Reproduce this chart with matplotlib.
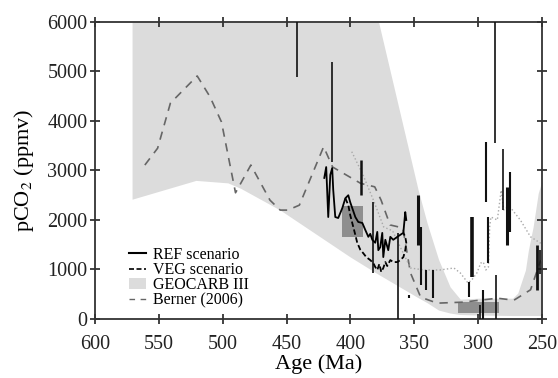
import numpy as np
import matplotlib
matplotlib.use("Agg")
import matplotlib.pyplot as plt
from matplotlib.lines import Line2D
from matplotlib.patches import Patch, Rectangle

plt.rcParams['font.family'] = 'serif'
plt.rcParams['font.serif'] = ['Liberation Serif', 'DejaVu Serif']
plt.rcParams['mathtext.fontset'] = 'stix'

# GEOCARB III envelope (age in Ma, ppmv)
geo_age = [571, 521, 496, 486, 455, 400, 378, 347, 340, 331, 322, 314, 300, 273, 269, 263, 260.7,
           257, 253, 250]
geo_low = [2420, 2800, 2750, 2640, 2200, 1250, 900, 430, 330, 180, 120, 90, 80, 70, 70, 70, 70,
           70, 70, 70]
geo_high = [6000, 6000, 6000, 6000, 6000, 6000, 6000, 2606, 1940, 1200, 650, 400, 420, 420, 525,
            990, 1390, 1860, 2540, 2800]

# Berner (2006)
berner_age = [561, 551, 541, 520, 510, 501, 490, 478, 463, 455, 449, 440, 421, 414, 392, 381, 376,
              369, 359, 353, 345, 332, 312, 285, 272, 259, 251]
berner_co2 = [3110, 3450, 4360, 4910, 4490, 3980, 2550, 3110, 2400, 2200, 2200, 2300, 3480, 3070,
              2740, 2670, 2400, 1900, 1840, 930, 440, 320, 340, 420, 380, 590, 1190]

# dotted curve
dot_age = [399, 390, 382, 374, 367, 360, 353, 345, 338, 330, 319, 314, 308, 305, 301, 298, 296, 294,
           292, 291, 290, 285, 282, 280, 277, 275, 267, 259, 251]
dot_co2 = [3380, 2900, 2400, 1860, 1780, 1400, 1030, 1000, 990, 990, 1030, 930, 730, 790, 930, 1130,
           1150, 990, 1050, 1860, 2060, 2000, 2600, 2200, 2260, 2260, 2000, 1660, 1530]

# REF scenario
ref_age = [420.5, 419, 417.4, 415.8, 414.3, 413.5, 411.9, 409.6, 406.4, 404, 401.7, 400.2, 398.6,
           396.2, 393.9, 390.7, 388.4, 386, 384.5, 382.9, 380.6, 379, 378.2, 376.7, 375.1, 374.3,
           372.7, 370.4, 368.8, 366.5, 363.3, 361, 358.6, 357.1, 356.3]
ref_co2 = [2850, 3070, 2060, 2910, 3050, 2610, 2060, 2040, 2240, 2440, 2500, 2360, 2240, 2060, 1960,
           1940, 1800, 1660, 1720, 1600, 1540, 1760, 1390, 1450, 1740, 1250, 1600, 1390, 1660, 1600,
           1660, 1700, 1740, 2160, 2000]

# VEG scenario
veg_age = [404, 401.7, 400.2, 397.8, 396.2, 394.7, 392.3, 390, 387.6, 384.5, 382.1, 380.6, 379,
           377.4, 375.9, 374.3, 372.7, 371.2, 368.8, 366.5, 363.3, 361, 358.6, 357.1, 356.3, 357.1, 358.6]
veg_co2 = [2440, 2300, 2100, 1860, 1700, 1540, 1400, 1330, 1250, 1190, 1130, 1050, 990, 1110, 950,
           1030, 1150, 1070, 1190, 1150, 1150, 1190, 1250, 1390, 1540, 1660, 1740]

# proxy ranges: age, low, high, width
bar_age = [441.5, 414.3, 391.5, 382.1, 362.5, 353.9, 346.9, 344.5, 340.6, 335.1, 306.9, 304.5,
           298.3, 295.9, 293.6, 292, 286.5, 285.7, 280.3, 277.1, 274.8, 253.6, 251.3]
bar_low = [4880, 3170, 2500, 930, 0, 420, 1490, 690, 590, 420, 440, 850,
           0, 0, 2360, 1130, 3550, 0, 2200, 1500, 1760, 590, 900]
bar_high = [6000, 5190, 3210, 2360, 1740, 480, 2500, 1860, 990, 990, 750, 2060,
            280, 590, 3580, 2060, 6000, 890, 3430, 2670, 2970, 1500, 1400]
bar_lw = [1.2, 1.2, 1.8, 1.2, 1.2, 1.5, 2.2, 1.5, 1.5, 1.5, 1.5, 2.6,
          1.2, 1.5, 1.5, 1.5, 1.2, 1.2, 1.2, 2.2, 1.5, 2.0, 1.2]

# paleosol boxes: age range, co2 range
box_age = [(390, 407), (284, 316)]
box_co2 = [(1650, 2280), (120, 340)]

fig = plt.figure(figsize=(5.58, 3.78), dpi=100)
ax = fig.add_axes([0.1703, 0.1561, 0.8011, 0.7857])

ax.fill_between(geo_age, geo_low, geo_high, color='#dcdcdc', lw=0, zorder=1)
for (a0, a1), (c0, c1) in zip(box_age, box_co2):
    ax.add_patch(Rectangle((a0, c0), a1 - a0, c1 - c0, color='#8e8e8e', lw=0, zorder=2))
ax.plot(berner_age, berner_co2, color='#666666', lw=1.2, dashes=(5, 4), zorder=3)
ax.plot(dot_age, dot_co2, color='#a8a8a8', lw=1.0, ls=':', zorder=3)
ax.vlines(bar_age, bar_low, bar_high, colors='#111111', linewidths=bar_lw, zorder=4)
ax.plot(ref_age, ref_co2, color='black', lw=1.3, zorder=5)
ax.plot(veg_age, veg_co2, color='black', lw=1.3, dashes=(3, 1.5), zorder=5)

ax.set_xlim(600, 250)
ax.set_ylim(0, 6000)
ax.set_xticks(np.arange(600, 249, -50))
ax.set_yticks(np.arange(0, 6001, 1000))
ax.tick_params(direction='inout', length=7, width=1.2, labelsize=14.5, top=True, right=True,
               colors='#222222')
ax.tick_params(axis='x', pad=8)
ax.tick_params(axis='y', pad=2)
for s in ax.spines.values():
    s.set_linewidth(1.3)
    s.set_color('#333333')

ax.set_xlabel('Age (Ma)', fontsize=16, labelpad=0)
ax.set_ylabel('pCO$_2$ (ppmv)', fontsize=16, labelpad=8)

handles = [Line2D([], [], color='black', lw=1.5),
           Line2D([], [], color='black', lw=1.2, dashes=(3, 1.5)),
           Patch(color='#dcdcdc', lw=0),
           Line2D([], [], color='#666666', lw=1.0, dashes=(4, 4))]
labels = ['REF scenario', 'VEG scenario', 'GEOCARB III', 'Berner (2006)']
ax.legend(handles, labels, loc='lower left', bbox_to_anchor=(0.052, 0.0), frameon=False,
          fontsize=11.5, handlelength=1.1, handletextpad=0.4, labelspacing=-0.05, borderpad=0.15)

fig.savefig('out.png', dpi=100)
